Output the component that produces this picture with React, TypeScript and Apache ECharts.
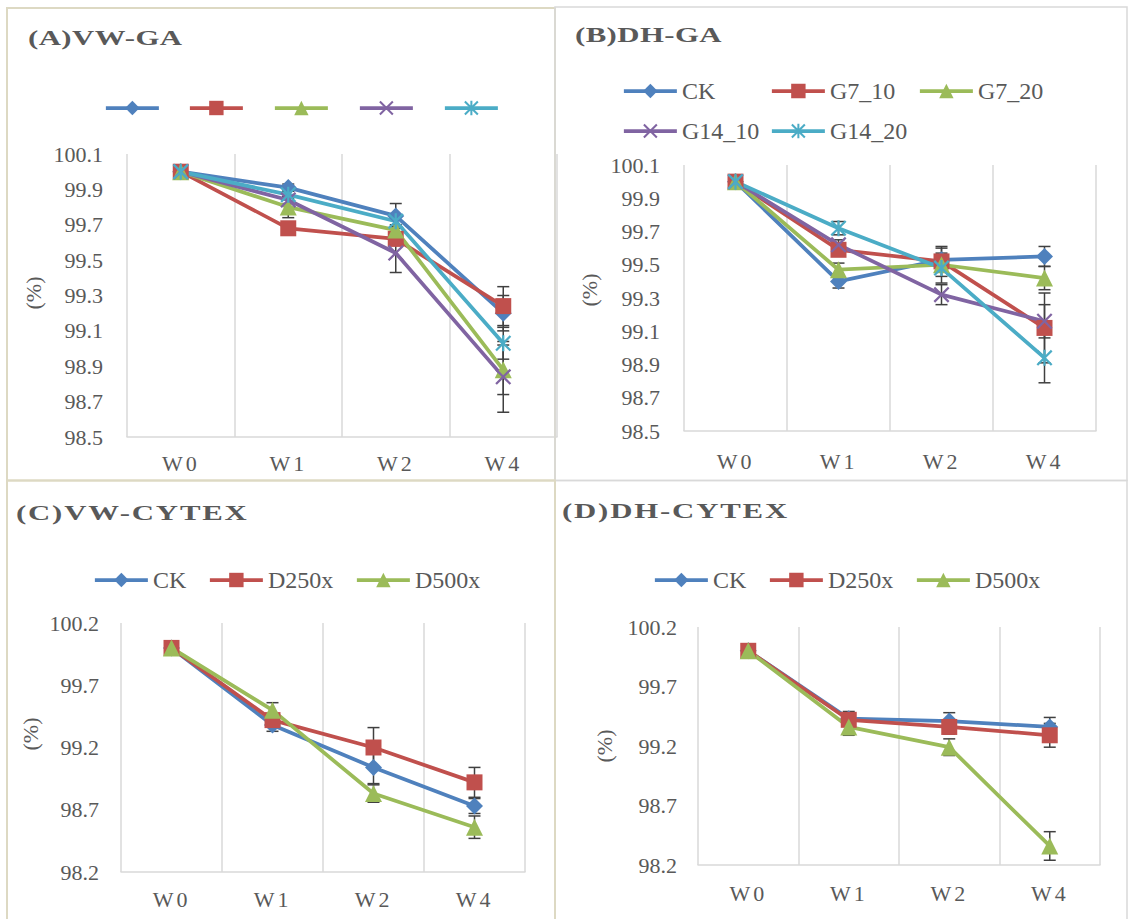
import React, { useEffect, useRef } from 'react';
import * as echarts from 'echarts';

// ---------- data ----------
const categories = ['W0', 'W1', 'W2', 'W4'];

// (A) VW-GA
const aCK = [100.0, 99.91, 99.75, 99.2];
const aG7_10 = [100.0, 99.68, 99.62, 99.24];
const aG7_20 = [100.0, 99.8, 99.67, 98.88];
const aG14_10 = [100.0, 99.84, 99.54, 98.84];
const aG14_20 = [100.0, 99.87, 99.72, 99.03];
const aErrCK = [0, 0.02, 0.07, 0.1];
const aErrG7_10 = [0, 0.02, 0.03, 0.11];
const aErrG7_20 = [0, 0.06, 0.03, 0.14];
const aErrG14_10 = [0, 0.02, 0.11, 0.2];
const aErrG14_20 = [0, 0.02, 0.03, 0.09];

// (B) DH-GA
const bCK = [100.0, 99.4, 99.53, 99.55];
const bG7_10 = [100.0, 99.59, 99.52, 99.12];
const bG7_20 = [100.0, 99.47, 99.5, 99.42];
const bG14_10 = [100.0, 99.62, 99.32, 99.16];
const bG14_20 = [100.0, 99.72, 99.48, 98.94];
const bErrCK = [0, 0.04, 0.07, 0.06];
const bErrG7_10 = [0, 0.03, 0.09, 0.21];
const bErrG7_20 = [0, 0.04, 0.03, 0.07];
const bErrG14_10 = [0, 0.03, 0.06, 0.1];
const bErrG14_20 = [0, 0.04, 0.09, 0.15];

// (C) VW-CYTEX
const cCK = [100.0, 99.38, 99.04, 98.73];
const cD250x = [100.0, 99.42, 99.2, 98.92];
const cD500x = [100.0, 99.5, 98.83, 98.56];
const cErrCK = [0, 0.05, 0.13, 0.06];
const cErrD250x = [0, 0.04, 0.16, 0.12];
const cErrD500x = [0, 0.06, 0.07, 0.09];

// (D) DH-CYTEX
const dCK = [100.0, 99.43, 99.41, 99.36];
const dD250x = [100.0, 99.42, 99.36, 99.29];
const dD500x = [100.0, 99.36, 99.19, 98.36];
const dErrCK = [0, 0.06, 0.07, 0.08];
const dErrD250x = [0, 0.05, 0.06, 0.1];
const dErrD500x = [0, 0.07, 0.07, 0.12];

const gaNames = ['CK', 'G7_10', 'G7_20', 'G14_10', 'G14_20'];
const cyNames = ['CK', 'D250x', 'D500x'];

const gaAxis = { min: 98.5, max: 100.1, step: 0.2 };
const cyAxis = { min: 98.2, max: 100.2, step: 0.5 };

// ---------- styles ----------
const FONT = 'Liberation Serif';
const XFONT = 'Liberation Serif, Times New Roman';
const TEXT = '#595959';
const GRID = '#D9D9D9';
const TAN = '#DDD9C3';

const X_PATH = 'path://M0,1L1,0L5,4L9,0L10,1L6,5L10,9L9,10L5,6L1,10L0,9L4,5Z';
const STAR_PATH =
  'path://M0,1L1,0L5,4L9,0L10,1L6,5L10,9L9,10L5,6L1,10L0,9L4,5ZM4.3,0L5.7,0L5.7,10L4.3,10Z';

const COLORS: Record<string, string> = {
  CK: '#4F81BD',
  G7_10: '#C0504D',
  G7_20: '#9BBB59',
  G14_10: '#8064A2',
  G14_20: '#4BACC6',
  D250x: '#C0504D',
  D500x: '#9BBB59',
};
const SYMBOLS: Record<string, string> = {
  CK: 'diamond',
  G7_10: 'rect',
  G7_20: 'triangle',
  G14_10: X_PATH,
  G14_20: STAR_PATH,
  D250x: 'rect',
  D500x: 'triangle',
};
const SIZES: Record<string, number> = {
  CK: 17,
  G7_10: 16,
  G7_20: 17,
  G14_10: 16,
  G14_20: 16,
  D250x: 16,
  D500x: 17,
};

type LegendPos = { name: string; left: number; top: number };
type Panel = {
  title: string;
  bold: string | number;
  tx: number;
  ty: number;
  grid: { left: number; top: number; width: number; height: number };
  axis: { min: number; max: number; step: number };
  yMargin: number;
  xMargin: number;
  pctX: number;
  pctY: number;
  names: string[];
  values: number[][];
  errs: number[][];
  legend: LegendPos[];
  hideLegendText: boolean;
};

const panels: Panel[] = [
  {
    title: '(A)VW-GA',
    bold: 'bold',
    tx: 28,
    ty: 38,
    grid: { left: 127, top: 154, width: 430, height: 283 },
    axis: gaAxis,
    yMargin: 24,
    xMargin: 15,
    pctX: 33,
    pctY: 293,
    names: gaNames,
    values: [aCK, aG7_10, aG7_20, aG14_10, aG14_20],
    errs: [aErrCK, aErrG7_10, aErrG7_20, aErrG14_10, aErrG14_20],
    legend: [
      { name: 'CK', left: 104, top: 99 },
      { name: 'G7_10', left: 188, top: 99 },
      { name: 'G7_20', left: 273, top: 99 },
      { name: 'G14_10', left: 358, top: 99 },
      { name: 'G14_20', left: 443, top: 99 },
    ],
    hideLegendText: true,
  },
  {
    title: '(B)DH-GA',
    bold: 'bold',
    tx: 575,
    ty: 35,
    grid: { left: 684, top: 165, width: 412, height: 266 },
    axis: gaAxis,
    yMargin: 24,
    xMargin: 19,
    pctX: 589,
    pctY: 290,
    names: gaNames,
    values: [bCK, bG7_10, bG7_20, bG14_10, bG14_20],
    errs: [bErrCK, bErrG7_10, bErrG7_20, bErrG14_10, bErrG14_20],
    legend: [
      { name: 'CK', left: 622, top: 79 },
      { name: 'G7_10', left: 770, top: 79 },
      { name: 'G7_20', left: 918, top: 79 },
      { name: 'G14_10', left: 622, top: 119 },
      { name: 'G14_20', left: 770, top: 119 },
    ],
    hideLegendText: false,
  },
  {
    title: '(C)VW-CYTEX',
    bold: 700,
    tx: 16,
    ty: 513,
    grid: { left: 121, top: 623, width: 404, height: 249 },
    axis: cyAxis,
    yMargin: 22,
    xMargin: 16,
    pctX: 30,
    pctY: 734,
    names: cyNames,
    values: [cCK, cD250x, cD500x],
    errs: [cErrCK, cErrD250x, cErrD500x],
    legend: [
      { name: 'CK', left: 93, top: 568 },
      { name: 'D250x', left: 208, top: 568 },
      { name: 'D500x', left: 355, top: 568 },
    ],
    hideLegendText: false,
  },
  {
    title: '(D)DH-CYTEX',
    bold: 700,
    tx: 562,
    ty: 511,
    grid: { left: 698, top: 627, width: 402, height: 238 },
    axis: cyAxis,
    yMargin: 21,
    xMargin: 17,
    pctX: 604,
    pctY: 746,
    names: cyNames,
    values: [dCK, dD250x, dD500x],
    errs: [dErrCK, dErrD250x, dErrD500x],
    legend: [
      { name: 'CK', left: 653, top: 568 },
      { name: 'D250x', left: 768, top: 568 },
      { name: 'D500x', left: 915, top: 568 },
    ],
    hideLegendText: false,
  },
];

const errRender = (params: any, api: any) => {
  const x = api.value(0);
  const v = api.value(1);
  const e = api.value(2);
  const top = api.coord([x, v + e]);
  const bot = api.coord([x, v - e]);
  const cx = top[0];
  const hw = 6;
  const st = { stroke: '#404040', lineWidth: 1.5 };
  return {
    type: 'group',
    children: [
      { type: 'line', shape: { x1: cx, y1: top[1], x2: cx, y2: bot[1] }, style: st },
      { type: 'line', shape: { x1: cx - hw, y1: top[1], x2: cx + hw, y2: top[1] }, style: st },
      { type: 'line', shape: { x1: cx - hw, y1: bot[1], x2: cx + hw, y2: bot[1] }, style: st },
    ],
  };
};

function buildOption() {
  const grid = panels.map((p) => ({ ...p.grid, containLabel: false }));
  const xAxis = panels.map((p, i) => ({
    type: 'category',
    gridIndex: i,
    data: categories,
    boundaryGap: true,
    axisTick: { show: false },
    axisLine: { show: true, lineStyle: { color: GRID, width: 1.5 } },
    splitLine: { show: true, lineStyle: { color: GRID, width: 1.5 } },
    axisLabel: { fontSize: 22, fontFamily: XFONT, color: TEXT, margin: p.xMargin },
  }));
  const yAxis = panels.map((p, i) => ({
    type: 'value',
    gridIndex: i,
    min: p.axis.min,
    max: p.axis.max,
    interval: p.axis.step,
    axisLine: { show: false },
    axisTick: { show: false },
    splitLine: { show: false },
    axisLabel: {
      fontSize: 22,
      fontFamily: FONT,
      color: TEXT,
      margin: p.yMargin,
      formatter: (v: number) => v.toFixed(1),
    },
  }));

  const series: any[] = [];
  const legend: any[] = [];
  panels.forEach((p, i) => {
    const errData: number[][] = [];
    p.names.forEach((n, k) => {
      p.values[k].forEach((v, j) => {
        const e = p.errs[k][j];
        if (e > 0) errData.push([j, v, e]);
      });
    });
    series.push({
      type: 'custom',
      xAxisIndex: i,
      yAxisIndex: i,
      data: errData,
      encode: { x: 0, y: 1 },
      renderItem: errRender,
      silent: true,
      z: 1,
    });
    p.names.forEach((n, k) => {
      series.push({
        type: 'line',
        name: n,
        xAxisIndex: i,
        yAxisIndex: i,
        data: p.values[k],
        symbol: SYMBOLS[n],
        symbolSize: SIZES[n],
        showAllSymbol: true,
        itemStyle: { color: COLORS[n] },
        lineStyle: { color: COLORS[n], width: 3.75 },
        emphasis: { disabled: true },
        silent: true,
        z: 3,
      });
    });
    p.legend.forEach((l) => {
      legend.push({
        data: [l.name],
        left: l.left,
        top: l.top,
        orient: 'horizontal',
        padding: 0,
        itemGap: 0,
        itemWidth: 53,
        itemHeight: 18,
        selectedMode: false,
        lineStyle: { width: 3.75 },
        textStyle: { fontSize: 24, fontFamily: FONT, color: TEXT },
        formatter: p.hideLegendText ? () => '' : '{name}',
      });
    });
  });

  const graphic: any[] = [
    { type: 'rect', z: 100, shape: { x: 7, y: 8, width: 548, height: 472.5 }, style: { fill: 'none', stroke: TAN, lineWidth: 2 } },
    { type: 'rect', z: 101, shape: { x: 555, y: 7, width: 572, height: 473.5 }, style: { fill: 'none', stroke: GRID, lineWidth: 1.5 } },
    { type: 'rect', z: 102, shape: { x: 555, y: 480.5, width: 572, height: 460 }, style: { fill: 'none', stroke: GRID, lineWidth: 1.5 } },
    { type: 'rect', z: 103, shape: { x: 7, y: 480.5, width: 548, height: 460 }, style: { fill: 'none', stroke: TAN, lineWidth: 2 } },
  ];
  panels.forEach((p) => {
    graphic.push({
      type: 'text',
      z: 110,
      x: p.tx,
      y: p.ty,
      scaleX: 1.4,
      style: {
        text: p.title,
        fontSize: 22,
        fontWeight: p.bold,
        fontFamily: FONT,
        fill: TEXT,
        align: 'left',
        verticalAlign: 'middle',
      },
    });
    graphic.push({
      type: 'text',
      z: 110,
      x: p.pctX,
      y: p.pctY,
      rotation: Math.PI / 2,
      style: {
        text: '(%)',
        fontSize: 22,
        fontFamily: FONT,
        fill: TEXT,
        align: 'center',
        verticalAlign: 'middle',
      },
    });
  });

  return {
    animation: false,
    backgroundColor: '#ffffff',
    textStyle: { fontFamily: FONT },
    grid,
    xAxis,
    yAxis,
    legend,
    series,
    graphic,
  };
}

const css = `
#root text[style*="bold"] { letter-spacing: 0.3px; }
#root text[style*="700"] { letter-spacing: 1.3px; }
#root text[style*="Times"] { letter-spacing: 3px; }
`;

export default function App() {
  const ref = useRef<HTMLDivElement>(null);
  useEffect(() => {
    if (!ref.current) return;
    const chart = echarts.init(ref.current, undefined, { renderer: 'svg' });
    chart.setOption(buildOption() as any);
    return () => {
      chart.dispose();
    };
  }, []);
  return (
    <>
      <style>{css}</style>
      <div
        ref={ref}
        style={{ position: 'fixed', left: 0, top: 0, width: 1128, height: 919, background: '#fff' }}
      />
    </>
  );
}
